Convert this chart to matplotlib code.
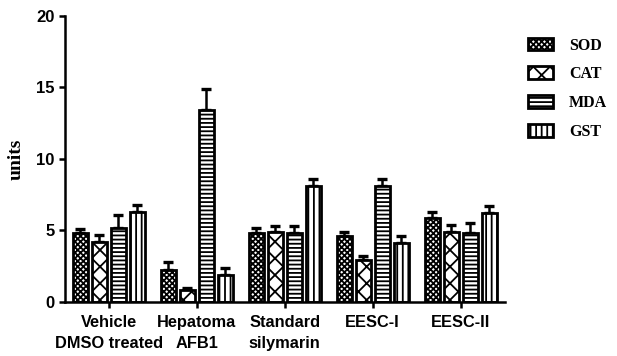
import numpy as np
import matplotlib.pyplot as plt

groups = ['Vehicle\nDMSO treated', 'Hepatoma\nAFB1', 'Standard\nsilymarin', 'EESC-I', 'EESC-II']
series = ['SOD', 'CAT', 'MDA', 'GST']
sod = [4.8, 2.2, 4.8, 4.6, 5.9]
cat = [4.2, 0.8, 4.9, 2.9, 4.9]
mda = [5.2, 13.4, 4.8, 8.1, 4.8]
gst = [6.3, 1.9, 8.1, 4.1, 6.2]
sod_err = [0.3, 0.6, 0.4, 0.3, 0.4]
cat_err = [0.5, 0.2, 0.4, 0.3, 0.5]
mda_err = [0.9, 1.5, 0.5, 0.5, 0.7]
gst_err = [0.5, 0.5, 0.5, 0.5, 0.5]

plt.rcParams['hatch.linewidth'] = 1.3
fig = plt.figure(figsize=(6.17, 3.56), dpi=100)
ax = fig.add_axes([0.105, 0.152, 0.713, 0.803])

x = np.arange(len(groups))
pitch = 0.216
width = 0.17
hatches = ['xxxxxx', 'xx', '----', '|||']
vals = [sod, cat, mda, gst]
errs = [sod_err, cat_err, mda_err, gst_err]
for i, (name, v, e, h) in enumerate(zip(series, vals, errs, hatches)):
    pos = x + (i - 1.5) * pitch
    ax.bar(pos, v, width, color='white', edgecolor='black', linewidth=2.0,
           hatch=h, label=name, zorder=2)
    ax.errorbar(pos, v, yerr=[np.zeros(len(v)), e], fmt='none', ecolor='black',
                elinewidth=1.8, capsize=3.5, capthick=2.4, zorder=1)

ax.set_xlim(-0.5, 4.5)
ax.set_ylim(0, 20)
ax.set_yticks([0, 5, 10, 15, 20])
ax.set_xticks(x)
ax.set_xticklabels(groups, fontfamily='Liberation Sans', fontweight='bold',
                   fontsize=11.8, linespacing=1.5)
for lab in ax.get_yticklabels():
    lab.set_fontfamily('Liberation Sans')
    lab.set_fontweight('bold')
    lab.set_fontsize(12)
ax.spines['top'].set_visible(False)
ax.spines['right'].set_visible(False)
for s in ['left', 'bottom']:
    ax.spines[s].set_linewidth(1.8)
ax.tick_params(width=1.8, length=4.5, direction='out', pad=3)
ax.tick_params(axis='x', pad=5)
ax.set_ylabel('units', fontfamily='Liberation Serif', fontweight='bold', fontsize=14, labelpad=8)

leg = ax.legend(loc='upper left', bbox_to_anchor=(1.021, 0.975), frameon=False,
                prop={'family': 'Liberation Serif', 'weight': 'bold', 'size': 11.5},
                handlelength=1.55, handleheight=0.85, labelspacing=0.8, handletextpad=1.0)

plt.savefig('out.png', dpi=100)
